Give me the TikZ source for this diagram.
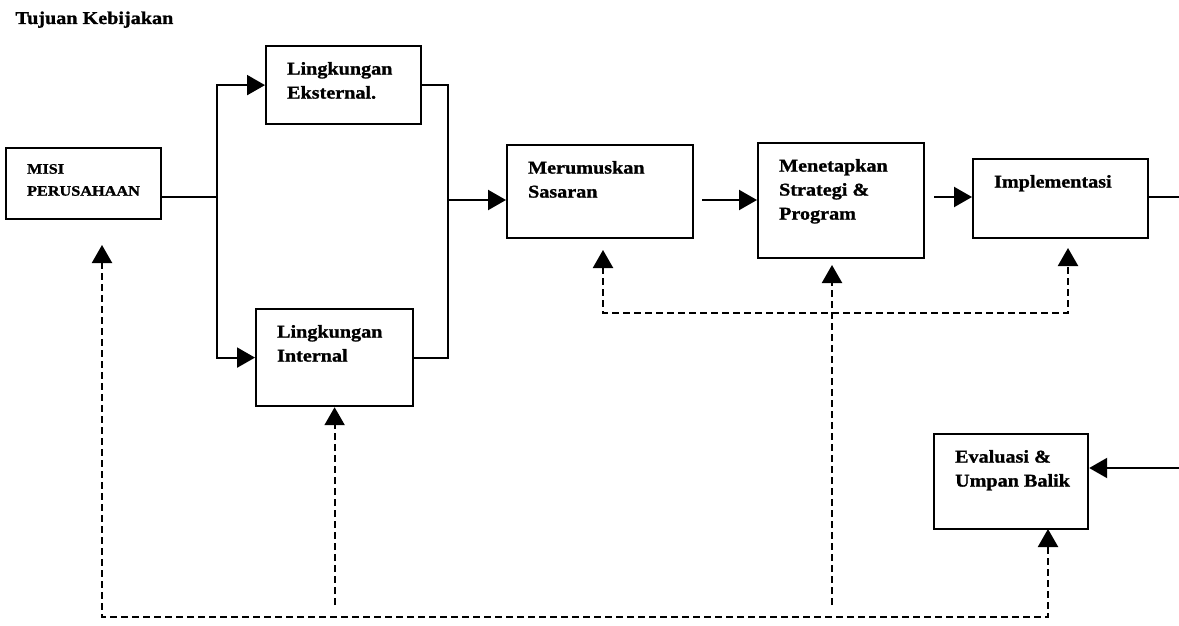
\documentclass[tikz,border=0pt]{standalone}
\usepackage{fontspec}
\newfontfamily\huruf[FakeStretch=1.12,BoldFeatures={FakeBold=1.2}]{Liberation Serif}
\usetikzlibrary{arrows.meta}
\newcommand{\isi}[3]{\parbox[c][#2][t]{#1}{\vspace*{16pt}\raggedright\leftskip=21pt #3}}

\begin{document}
\begin{tikzpicture}[x=1pt,y=-1pt,
	kotak/.style={draw,line width=2.2pt,inner sep=0pt,anchor=north west,font=\huruf\bfseries\fontsize{18}{24}\selectfont},
	garis/.style={line width=2.2pt},
	panah/.style={garis,-{Triangle[length=18pt,width=20pt]}},
	putus/.style={line width=2.2pt,dash pattern=on 7pt off 4pt}]
	\useasboundingbox (0,0) rectangle (1179,626);
	\node[anchor=base west,font=\huruf\bfseries\fontsize{18}{24}\selectfont] (judul) at (12,24) {Tujuan Kebijakan};
	% kotak-kotak
	\node[kotak,font=\huruf\bfseries\fontsize{14.5}{22}\selectfont] (misi) at (5,147) {\isi{155pt}{71pt}{MISI\\PERUSAHAAN}};
	\node[kotak] (eksternal) at (265,45) {\isi{155pt}{78pt}{Lingkungan\\Eksternal.}};
	\node[kotak] (internal) at (255,308) {\isi{157pt}{97pt}{Lingkungan\\Internal}};
	\node[kotak] (sasaran) at (506,144) {\isi{186pt}{93pt}{Merumuskan\\Sasaran}};
	\node[kotak] (strategi) at (757,142) {\isi{166pt}{115pt}{Menetapkan\\Strategi \&\\Program}};
	\node[kotak] (implementasi) at (972,158) {\isi{175pt}{79pt}{Implementasi}};
	\node[kotak] (evaluasi) at (933,433) {\isi{154pt}{95pt}{Evaluasi \&\\Umpan Balik}};
	% titik bantu
	\coordinate (kiri) at (217,197);
	\coordinate (kanan) at (448,200);
	\coordinate (jalur) at (0,197);
	\coordinate (ujung) at (1179,197);
	\coordinate (masuk) at (1179,468);
	\coordinate (dasar) at (0,617);
	\coordinate (tengah) at (0,313);
	\coordinate (tMisi) at (102,245);
	\coordinate (tSasaran) at (603,250);
	\coordinate (tStrategi) at (832,265);
	\coordinate (tImpl) at (1068,248);
	\coordinate (tEval) at (1048,529);
	% alur utama
	\draw[garis] (misi.east |- kiri) -- (kiri);
	\draw[panah] (kiri) |- (eksternal.west);
	\draw[panah] (kiri) |- (internal.west);
	\draw[garis] (eksternal.east) -| (kanan) -- (kanan |- internal.east) -- (internal.east);
	\draw[panah] (kanan) -- (sasaran.west |- kanan);
	\draw[panah,shorten <=8pt] (sasaran.east |- kanan) -- (strategi.west |- kanan);
	\draw[panah,shorten <=9pt] (strategi.east |- jalur) -- (implementasi.west |- jalur);
	\draw[garis] (implementasi.east |- ujung) -- (ujung);
	\draw[panah] (masuk) -- (evaluasi.east |- masuk);
	% umpan balik
	\draw[putus,{Triangle[length=18pt,width=20pt]}-{Triangle[length=18pt,width=20pt]}] (tMisi) -- (tMisi |- dasar) -| (tEval);
	\draw[putus,{Triangle[length=18pt,width=20pt]}-{Triangle[length=18pt,width=20pt]}] (tSasaran) -- (tSasaran |- tengah) -| (tImpl);
	\draw[putus,-{Triangle[length=18pt,width=20pt]},shorten <=12pt] (internal.south |- dasar) -- (internal.south);
	\draw[putus,-{Triangle[length=18pt,width=20pt]},shorten <=12pt] (tStrategi |- dasar) -- (tStrategi);
\end{tikzpicture}
\end{document}
